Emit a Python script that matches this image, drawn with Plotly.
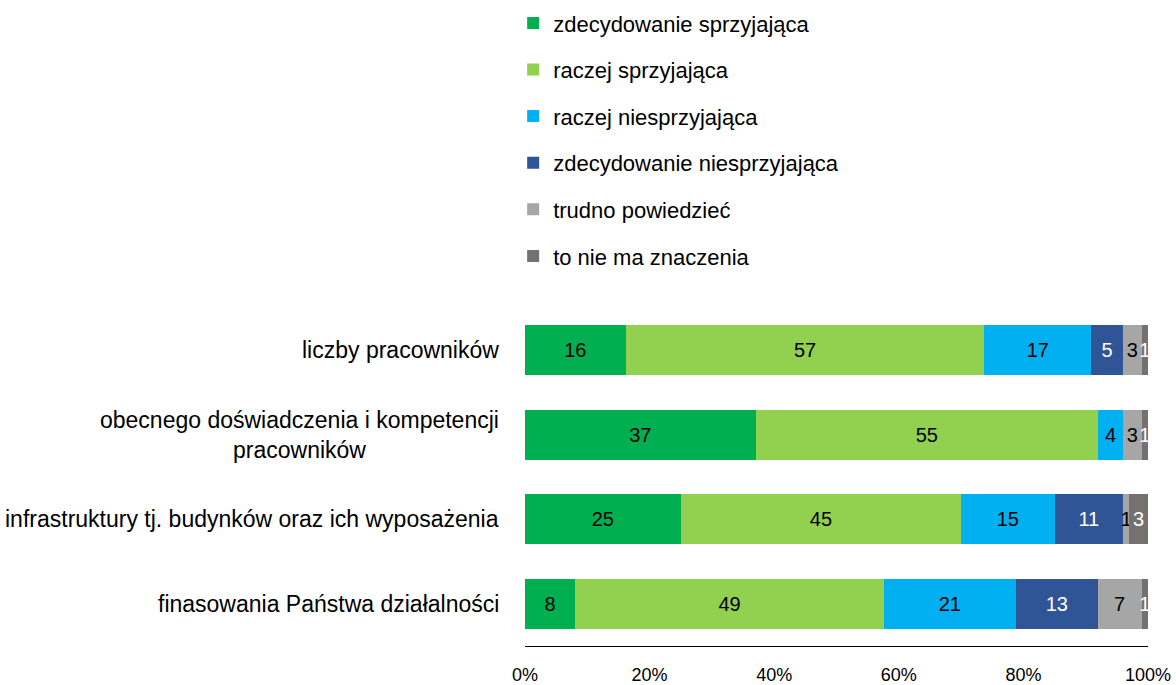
import plotly.graph_objects as go

categories = [
    "liczby pracowników",
    "obecnego doświadczenia i kompetencji<br>pracowników",
    "infrastruktury tj. budynków oraz ich wyposażenia",
    "finasowania Państwa działalności",
]
series_names = [
    "zdecydowanie sprzyjająca",
    "raczej sprzyjająca",
    "raczej niesprzyjająca",
    "zdecydowanie niesprzyjająca",
    "trudno powiedzieć",
    "to nie ma znaczenia",
]
values = [
    [16, 37, 25, 8],
    [57, 55, 45, 49],
    [17, 4, 15, 21],
    [5, 0, 11, 13],
    [3, 3, 1, 7],
    [1, 1, 3, 1],
]
colors = ["#00B050", "#92D050", "#00B0F0", "#2F5597", "#A6A6A6", "#767171"]
text_colors = ["#000000", "#000000", "#000000", "#FFFFFF", "#000000", "#FFFFFF"]
tick_vals = [0, 20, 40, 60, 80, 100]
tick_text = ["0%", "20%", "40%", "60%", "80%", "100%"]

FONT = "Liberation Sans"

fig = go.Figure()
for name, vals, col, tcol in zip(series_names, values, colors, text_colors):
    fig.add_trace(go.Bar(
        y=categories, x=vals, name=name, orientation="h",
        marker=dict(color=col, line=dict(width=0)),
        text=[str(v) if v else "" for v in vals],
        texttemplate="%{text}",
        textposition="inside", insidetextanchor="middle", textangle=0,
        textfont=dict(color=tcol, size=20, family=FONT),
        legendgroup=name,
        cliponaxis=False,
    ))

annotations = []
for c in categories:
    annotations.append(dict(
        x=0, xref="paper", y=c, yref="y", xanchor="right", xshift=-24,
        text=c, showarrow=False, align="center",
        font=dict(size=23, family=FONT, color="#000000"),
    ))

fig.update_layout(
    barmode="stack", barnorm="percent", bargap=0.41,
    width=1176, height=685,
    margin=dict(l=525, r=28, t=308, b=39, autoexpand=False),
    paper_bgcolor="white", plot_bgcolor="white",
    font=dict(family=FONT, size=20, color="#000000"),
    uniformtext=dict(minsize=20, mode="show"),
    showlegend=True,
    legend=dict(
        x=-0.019, xanchor="left", y=1.905, yanchor="top",
        traceorder="grouped", tracegroupgap=15,
        font=dict(size=22, family=FONT, color="#000000"),
        itemwidth=30,
    ),
    annotations=annotations,
    xaxis=dict(
        range=[0, 100], tickvals=tick_vals, ticktext=tick_text,
        showgrid=False, zeroline=False, showline=True, linecolor="#000000", linewidth=1,
        ticks="", ticklabelstandoff=12,
        tickfont=dict(size=18, family=FONT, color="#000000"),
    ),
    yaxis=dict(
        categoryorder="array", categoryarray=categories, autorange="reversed",
        showticklabels=False, showgrid=False, zeroline=False, showline=False,
    ),
)

fig.write_html(
    "out.html",
    config={"displayModeBar": False},
    post_script="document.body.style.margin='0px';",
)
